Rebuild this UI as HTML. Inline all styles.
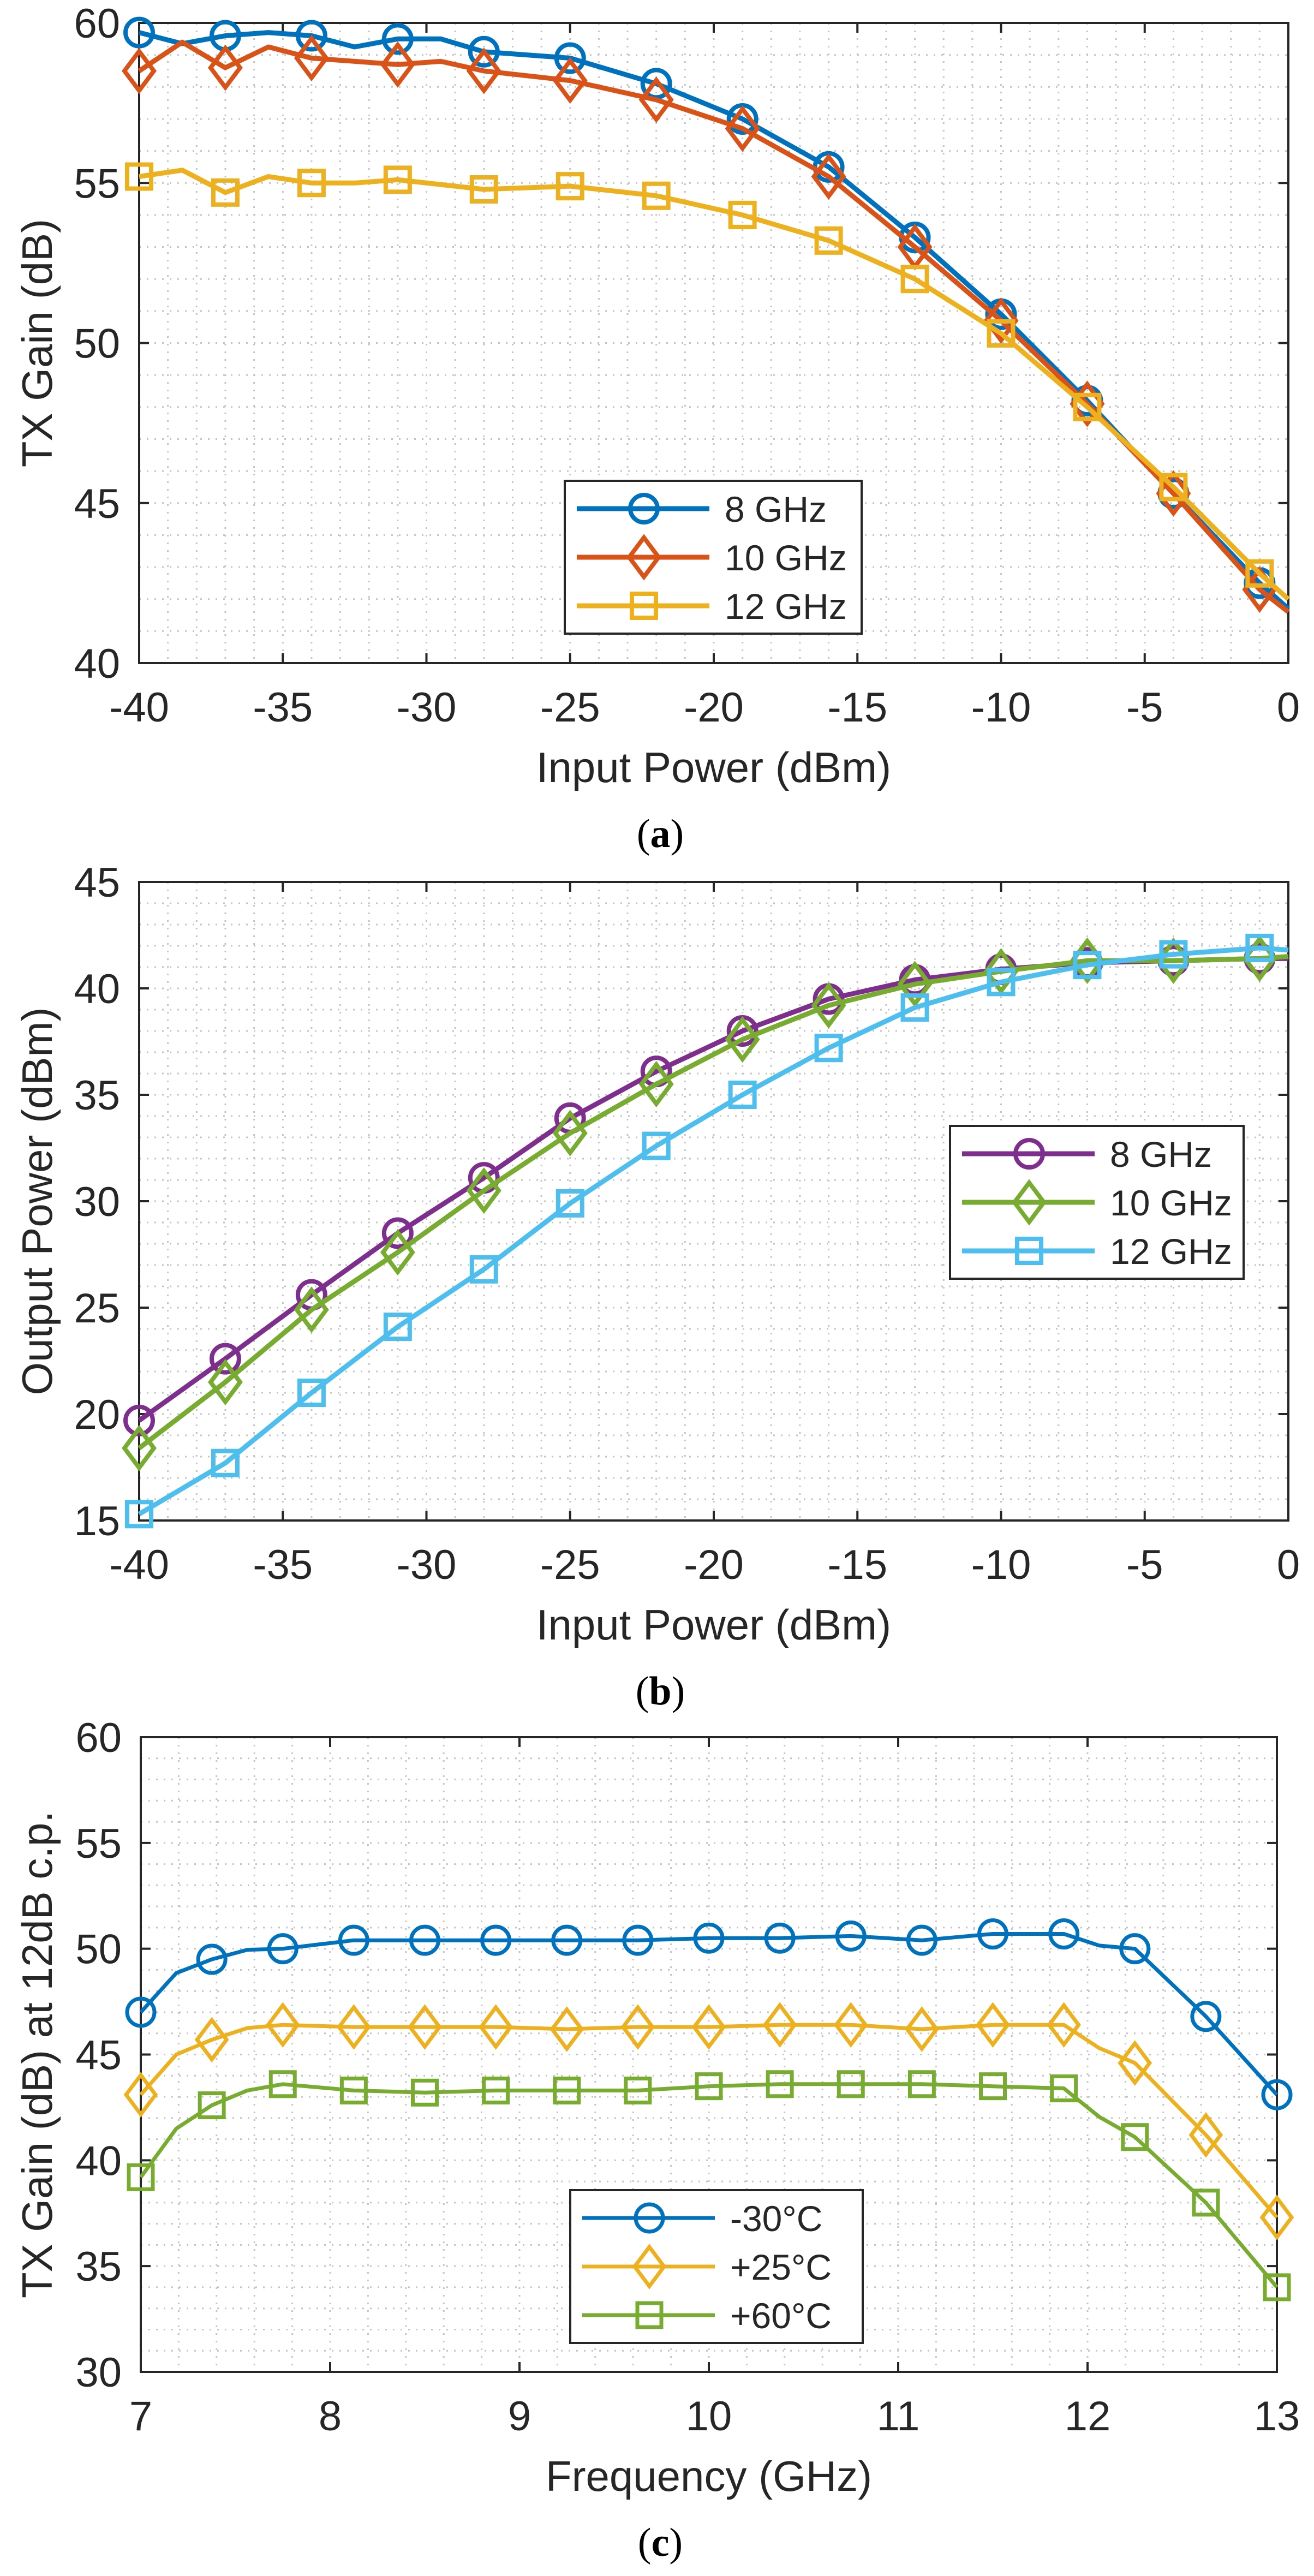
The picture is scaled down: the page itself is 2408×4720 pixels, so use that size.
<!DOCTYPE html>
<html><head><meta charset="utf-8">
<style>
html,body{margin:0;padding:0;background:#fff;}
svg{display:block;}
text{font-family:"Liberation Sans",Arial,sans-serif;fill:#262626;}
.cap{font-family:"Liberation Serif","Times New Roman",serif;fill:#000;}
</style></head>
<body>
<svg id="s" width="2408" height="4720" viewBox="0 0 2408 4720" xmlns="http://www.w3.org/2000/svg"></svg>
<script>
const S=document.getElementById('s');
let out='';
function panel(o){
  const {top,bot,xmin,xmax,xmaj,xminor,ymin,ymax,ymaj,yminor,xlabel,ylabel,cap,series,leg}=o;
  const L=o.L||255,R=o.R||2361,lw=o.lw||9,ms=o.ms||8;
  const X=v=>L+(v-xmin)/(xmax-xmin)*(R-L);
  const Y=v=>bot-(v-ymin)/(ymax-ymin)*(bot-top);
  let g='';
  for(let v=xmin;v<=xmax+1e-9;v+=xminor){const x=X(v).toFixed(1);g+=`<line x1="${x}" y1="${top}" x2="${x}" y2="${bot}"/>`;}
  for(let v=ymin;v<=ymax+1e-9;v+=yminor){const y=Y(v).toFixed(1);g+=`<line x1="${L}" y1="${y}" x2="${R}" y2="${y}"/>`;}
  out+=`<g stroke="#c4c4c4" stroke-width="3" stroke-dasharray="3 11">${g}</g>`;
  let t='';
  for(let v=xmin;v<=xmax+1e-9;v+=xmaj){const x=X(v);
    t+=`<line x1="${x}" y1="${bot}" x2="${x}" y2="${bot-18}"/><line x1="${x}" y1="${top}" x2="${x}" y2="${top+18}"/>`;
    out+=`<text x="${x}" y="${bot+107}" font-size="76" text-anchor="middle">${v<0?'-'+(-v):v}</text>`;}
  for(let v=ymin;v<=ymax+1e-9;v+=ymaj){const y=Y(v);
    t+=`<line x1="${L}" y1="${y}" x2="${L+18}" y2="${y}"/><line x1="${R}" y1="${y}" x2="${R-18}" y2="${y}"/>`;
    out+=`<text x="${L-35}" y="${y+27}" font-size="76" text-anchor="end">${v}</text>`;}
  out+=`<g stroke="#262626" stroke-width="4">${t}</g>`;
  out+=`<rect x="${L}" y="${top}" width="${R-L}" height="${bot-top}" fill="none" stroke="#262626" stroke-width="4"/>`;
  series.forEach(s=>{
    const pts=s.d.map(p=>X(p[0]).toFixed(1)+','+Y(p[1]).toFixed(1)).join(' ');
    out+=`<polyline points="${pts}" fill="none" stroke="${s.c}" stroke-width="${lw}" stroke-linejoin="round"/>`;
    s.m.forEach(p=>{out+=marker(s.k,X(p[0]),Y(p[1]),s.c,ms);});
  });
  out+=`<rect x="${leg.x}" y="${leg.y}" width="${leg.w}" height="${leg.h}" fill="#fff" stroke="#262626" stroke-width="4"/>`;
  series.forEach((s,i)=>{const y=leg.y+51+i*89;
    out+=`<line x1="${leg.x+22}" y1="${y}" x2="${leg.x+265}" y2="${y}" stroke="${s.c}" stroke-width="${lw}"/>`;
    out+=marker(s.k,leg.x+145,y,s.c,ms);
    out+=`<text x="${leg.x+293}" y="${y+24}" font-size="66" fill="#000">${s.n}</text>`;});
  out+=`<text x="${(L+R)/2}" y="${bot+218}" font-size="78" text-anchor="middle">${xlabel}</text>`;
  const cy=(top+bot)/2;
  out+=`<text x="0" y="0" font-size="78" text-anchor="middle" transform="translate(95 ${cy}) rotate(-90)">${ylabel}</text>`;
  out+=`<text class="cap" x="1210" y="${bot+337}" font-size="74" text-anchor="middle">(<tspan font-weight="bold">${cap}</tspan>)</text>`;
}
function marker(k,x,y,c,w){
  if(k==='o')return `<circle cx="${x}" cy="${y}" r="25" fill="none" stroke="${c}" stroke-width="${w}"/>`;
  if(k==='d')return `<polygon points="${x},${y-36} ${x+27},${y} ${x},${y+36} ${x-27},${y}" fill="none" stroke="${c}" stroke-width="${w}"/>`;
  return `<rect x="${x-22}" y="${y-22}" width="44" height="44" fill="none" stroke="${c}" stroke-width="${w}"/>`;
}
const xs=[-40,-37,-34,-31,-28,-25,-22,-19,-16,-13,-10,-7,-4,-1];
function mk(arr){return xs.map((x,i)=>[x,arr[i]]);}
function withEnd(arr,end,extra){let d=mk(arr).concat([[0,end]]);if(extra)d=d.concat(extra);d.sort((a,b)=>a[0]-b[0]);return d;}
const a1=[59.7,59.6,59.6,59.5,59.1,58.9,58.1,57.0,55.5,53.3,50.9,48.2,45.3,42.5];
const a2=[58.5,58.6,58.9,58.7,58.5,58.2,57.6,56.7,55.2,53.0,50.7,48.1,45.3,42.3];
const a3=[55.2,54.7,55.0,55.1,54.8,54.9,54.6,54.0,53.2,52.0,50.3,48.0,45.5,42.8];
panel({top:42,bot:1215,xmin:-40,xmax:0,xmaj:5,xminor:1,ymin:40,ymax:60,ymaj:5,yminor:1,
 xlabel:'Input Power (dBm)',ylabel:'TX Gain (dB)',cap:'a',
 leg:{x:1035,y:881,w:544,h:280},
 series:[
  {n:'8 GHz',c:'#0072BD',k:'o',m:mk(a1),d:withEnd(a1,41.7,[[-38.5,59.35],[-35.5,59.7],[-32.5,59.25],[-29.5,59.5]])},
  {n:'10 GHz',c:'#D95319',k:'d',m:mk(a2),d:withEnd(a2,41.6,[[-38.5,59.4],[-35.5,59.25],[-32.5,58.8],[-29.5,58.8]])},
  {n:'12 GHz',c:'#EDB120',k:'s',m:mk(a3),d:withEnd(a3,42.0,[[-38.5,55.4],[-35.5,55.2],[-32.5,55.0]])}
 ]});
const b1=[19.7,22.6,25.6,28.5,31.1,33.9,36.1,38.0,39.5,40.4,40.9,41.2,41.3,41.4];
const b2=[18.4,21.5,24.9,27.6,30.5,33.2,35.5,37.6,39.2,40.2,40.8,41.3,41.3,41.4];
const b3=[15.3,17.7,21.0,24.1,26.8,29.9,32.6,35.0,37.2,39.1,40.3,41.1,41.6,41.9];
panel({top:1616,bot:2786,xmin:-40,xmax:0,xmaj:5,xminor:1,ymin:15,ymax:45,ymaj:5,yminor:1,
 xlabel:'Input Power (dBm)',ylabel:'Output Power (dBm)',cap:'b',
 leg:{x:1741,y:2063,w:538,h:280},
 series:[
  {n:'8 GHz',c:'#7E2F8E',k:'o',m:mk(b1),d:withEnd(b1,41.4)},
  {n:'10 GHz',c:'#77AC30',k:'d',m:mk(b2),d:withEnd(b2,41.5)},
  {n:'12 GHz',c:'#4DBEEE',k:'s',m:mk(b3),d:withEnd(b3,41.8)}
 ]});
const fx=[];for(let i=0;i<17;i++)fx.push(7+i*0.375);
const c1=[47.0,49.5,50.0,50.4,50.4,50.4,50.4,50.4,50.5,50.5,50.6,50.4,50.7,50.7,50.0,46.8,43.1];
const c2=[43.1,45.7,46.4,46.3,46.3,46.3,46.2,46.3,46.3,46.4,46.4,46.2,46.4,46.4,44.6,41.2,37.3];
const c3=[39.2,42.6,43.6,43.3,43.2,43.3,43.3,43.3,43.5,43.6,43.6,43.6,43.5,43.4,41.1,38.0,34.0];
const fm=a=>fx.map((x,i)=>[x,a[i]]);
const sm=a=>{const p=fm(a);const r=[];for(let i=0;i<p.length;i++){r.push(p[i]);if(i<p.length-1){
  let m=(p[i][1]+p[i+1][1])/2; if(i===0)m+=0.6; if(i===1)m+=0.2; if(i===13)m-=0.2;
  r.push([(p[i][0]+p[i+1][0])/2,m]);}}return r;};
panel({top:3183,bot:4346,L:258,R:2340,lw:7,ms:7,xmin:7,xmax:13,xmaj:1,xminor:0.2,ymin:30,ymax:60,ymaj:5,yminor:1,
 xlabel:'Frequency (GHz)',ylabel:'TX Gain (dB) at 12dB c.p.',cap:'c',
 leg:{x:1045,y:4013,w:536,h:280},
 series:[
  {n:'-30°C',c:'#0072BD',k:'o',m:fm(c1),d:sm(c1)},
  {n:'+25°C',c:'#EDB120',k:'d',m:fm(c2),d:sm(c2)},
  {n:'+60°C',c:'#77AC30',k:'s',m:fm(c3),d:sm(c3)}
 ]});
S.innerHTML=out;
</script>
</body></html>
